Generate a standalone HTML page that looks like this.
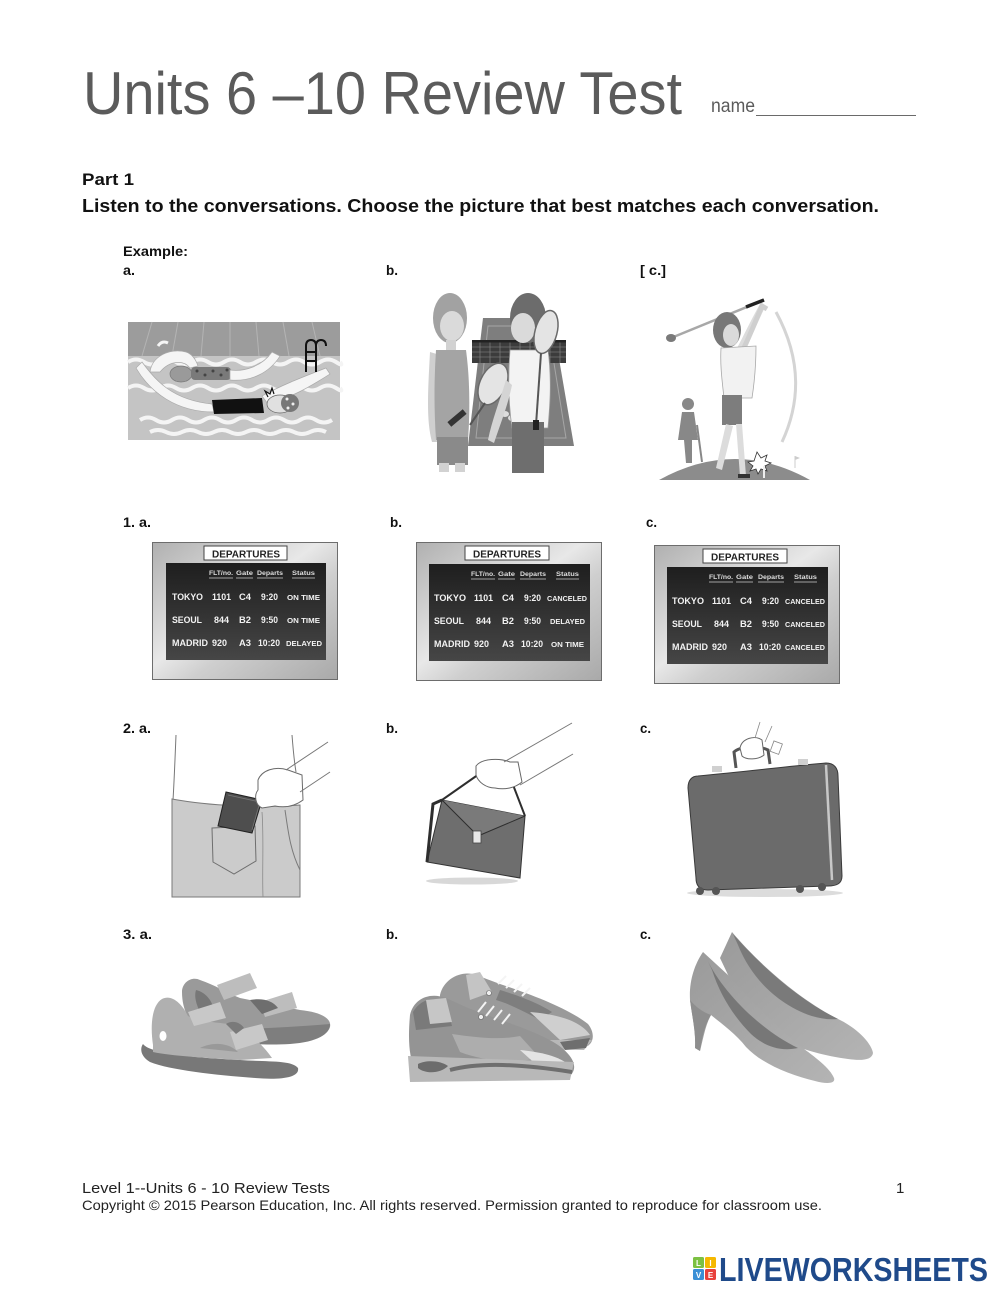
<!DOCTYPE html>
<html><head><meta charset="utf-8"><style>
html,body{margin:0;padding:0;background:#fff;}
svg{display:block;}
text{font-family:"Liberation Sans",Arial,sans-serif;}
</style></head><body>
<svg width="1000" height="1294" viewBox="0 0 1000 1294" xmlns="http://www.w3.org/2000/svg" font-family="Liberation Sans, Arial, sans-serif">
<defs>
<linearGradient id="silver" x1="0" y1="0" x2="1" y2="1">
<stop offset="0" stop-color="#b0b0b0"/><stop offset="0.45" stop-color="#e8e8e8"/><stop offset="0.6" stop-color="#cfcfcf"/><stop offset="1" stop-color="#a9a9a9"/>
</linearGradient>
<linearGradient id="dark" x1="0" y1="0" x2="0" y2="1">
<stop offset="0" stop-color="#1e1e1e"/><stop offset="1" stop-color="#464646"/>
</linearGradient>
<linearGradient id="shoe" x1="0" y1="0" x2="1" y2="1">
<stop offset="0" stop-color="#9a9a9a"/><stop offset="1" stop-color="#b4b4b4"/>
</linearGradient>
</defs>
<rect width="1000" height="1294" fill="#fff"/>

<!-- Header -->
<text x="83" y="114" font-size="60" fill="#5b5b5b" textLength="599" lengthAdjust="spacingAndGlyphs">Units 6 –10 Review Test</text>
<text x="711" y="112" font-size="19" fill="#5b5b5b" textLength="44" lengthAdjust="spacingAndGlyphs">name</text>
<line x1="756" y1="115.5" x2="916" y2="115.5" stroke="#6a6a6a" stroke-width="1"/>

<text x="82" y="185" font-size="17" font-weight="bold" fill="#111" textLength="52" lengthAdjust="spacingAndGlyphs">Part 1</text>
<text x="82" y="212" font-size="18" font-weight="bold" fill="#111" textLength="797" lengthAdjust="spacingAndGlyphs">Listen to the conversations. Choose the picture that best matches each conversation.</text>

<!-- Labels -->
<g font-size="14" font-weight="bold" fill="#111">
<text x="123" y="256" textLength="65" lengthAdjust="spacingAndGlyphs">Example:</text>
<text x="123" y="275" textLength="12" lengthAdjust="spacingAndGlyphs">a.</text>
<text x="386" y="275" textLength="12" lengthAdjust="spacingAndGlyphs">b.</text>
<text x="640" y="275" textLength="26" lengthAdjust="spacingAndGlyphs">[ c.]</text>
<text x="123" y="527" textLength="28" lengthAdjust="spacingAndGlyphs">1. a.</text>
<text x="390" y="527" textLength="12" lengthAdjust="spacingAndGlyphs">b.</text>
<text x="646" y="527" textLength="11" lengthAdjust="spacingAndGlyphs">c.</text>
<text x="123" y="733" textLength="28" lengthAdjust="spacingAndGlyphs">2. a.</text>
<text x="386" y="733" textLength="12" lengthAdjust="spacingAndGlyphs">b.</text>
<text x="640" y="733" textLength="11" lengthAdjust="spacingAndGlyphs">c.</text>
<text x="123" y="939" textLength="29" lengthAdjust="spacingAndGlyphs">3. a.</text>
<text x="386" y="939" textLength="12" lengthAdjust="spacingAndGlyphs">b.</text>
<text x="640" y="939" textLength="11" lengthAdjust="spacingAndGlyphs">c.</text>
</g>

<!-- Example a: swimming pool -->
<g>
<rect x="128" y="322" width="212" height="118" fill="#c4c4c4"/>
<rect x="128" y="322" width="212" height="34" fill="#9c9c9c"/>
<g stroke="#b4b4b4" stroke-width="1">
<line x1="152" y1="322" x2="142" y2="356"/><line x1="178" y1="322" x2="172" y2="356"/>
<line x1="204" y1="322" x2="201" y2="356"/><line x1="230" y1="322" x2="230" y2="356"/>
<line x1="256" y1="322" x2="259" y2="356"/><line x1="283" y1="322" x2="289" y2="356"/>
<line x1="312" y1="322" x2="320" y2="356"/>
</g>
<g fill="none" stroke="#f4f4f4" stroke-width="4">
<path d="M128 362 q8 -5 16 0 t16 0 t16 0 t16 0 t16 0 t16 0 t16 0 t16 0 t16 0 t16 0 t16 0 t16 0 t16 0 t4 0"/>
<path d="M128 388 q8 -5 16 0 t16 0 t16 0 t16 0 t16 0 t16 0 t16 0 t16 0 t16 0 t16 0 t16 0 t16 0 t16 0 t4 0"/>
<path d="M140 420 q8 -5 16 0 t16 0 t16 0 t16 0 t16 0 t16 0 t16 0 t16 0 t16 0 t16 0 t16 0 t16 0"/>
<path d="M150 432 q8 -4 16 0 t16 0 t16 0 t16 0 t16 0 t16 0 t16 0 t16 0 t16 0 t16 0 t16 0"/>
</g>
<path d="M150 372 C152 356 170 348 186 352 C192 354 196 360 198 366 L190 368 C184 360 170 360 160 372 Z" fill="#f5f5f5" stroke="#aaa" stroke-width="0.7"/>
<path d="M158 346 q4 -6 10 -3" stroke="#f5f5f5" stroke-width="3" fill="none"/>
<ellipse cx="181" cy="374" rx="11" ry="8" fill="#9a9a9a" stroke="#777" stroke-width="0.7"/>
<rect x="191" y="367" width="40" height="13" rx="4" fill="#7a7a7a"/>
<g fill="#444"><circle cx="197" cy="371" r="1.5"/><circle cx="205" cy="375" r="1.5"/><circle cx="213" cy="371" r="1.5"/><circle cx="221" cy="375" r="1.5"/><circle cx="227" cy="370" r="1.5"/></g>
<path d="M230 370 C245 372 262 366 272 352 L280 356 C270 372 252 382 230 380 Z" fill="#f5f5f5" stroke="#aaa" stroke-width="0.7"/>
<path d="M142 362 C155 380 172 400 212 404 L214 412 C176 412 150 392 136 368 Z" fill="#f5f5f5" stroke="#aaa" stroke-width="0.7"/>
<path d="M212 400 L262 398 L264 413 L214 414 Z" fill="#111"/>
<path d="M262 396 C280 386 300 378 326 368 L330 374 C308 388 290 398 268 404 Z" fill="#f5f5f5" stroke="#aaa" stroke-width="0.7"/>
<ellipse cx="280" cy="404" rx="13" ry="9" fill="#e0e0e0" stroke="#666" stroke-width="0.7"/>
<ellipse cx="290" cy="403" rx="9" ry="9" fill="#777"/>
<g fill="#eee"><circle cx="287" cy="399" r="1.5"/><circle cx="293" cy="404" r="1.5"/><circle cx="288" cy="408" r="1.5"/></g>
<path d="M268 397 l-3 -6 l5 3 l2 -6 l2 6" stroke="#111" stroke-width="1.2" fill="none"/>
<g fill="none" stroke="#111" stroke-width="2">
<path d="M306 372 V346 q0 -6 5 -6 q5 0 5 6"/>
<path d="M316 372 V346 q0 -6 5 -6 q5 0 5 6"/>
<line x1="306" y1="352" x2="316" y2="352"/><line x1="306" y1="361" x2="316" y2="361"/>
</g>
</g>

<!-- Example b: tennis -->
<g>
<path d="M483 318 L552 318 L574 446 L468 446 Z" fill="#7e7e7e"/>
<path d="M488 326 L548 326 L566 438 L476 438 Z" fill="none" stroke="#a6a6a6" stroke-width="1"/>
<ellipse cx="505" cy="414" rx="4" ry="3" fill="#ddd"/><ellipse cx="512" cy="418" rx="4" ry="3" fill="#ddd"/><ellipse cx="545" cy="420" rx="4" ry="3" fill="#ddd"/>
<rect x="472" y="341" width="94" height="22" fill="#3c3c3c"/>
<g stroke="#8a8a8a" stroke-width="0.6">
<line x1="472" y1="347" x2="566" y2="347"/><line x1="472" y1="352" x2="566" y2="352"/><line x1="472" y1="357" x2="566" y2="357"/>
<line x1="480" y1="341" x2="480" y2="363"/><line x1="490" y1="341" x2="490" y2="363"/><line x1="500" y1="341" x2="500" y2="363"/><line x1="510" y1="341" x2="510" y2="363"/><line x1="520" y1="341" x2="520" y2="363"/><line x1="530" y1="341" x2="530" y2="363"/><line x1="540" y1="341" x2="540" y2="363"/><line x1="550" y1="341" x2="550" y2="363"/><line x1="560" y1="341" x2="560" y2="363"/>
</g>
<rect x="472" y="340" width="94" height="2.5" fill="#222"/>
<ellipse cx="450" cy="318" rx="17" ry="25" fill="#a2a2a2"/>
<ellipse cx="452" cy="326" rx="12" ry="15" fill="#dadada"/>
<rect x="446" y="340" width="10" height="12" fill="#d2d2d2"/>
<path d="M430 352 C428 390 426 420 432 442 L438 442 C436 410 438 380 440 355 Z" fill="#cfcfcf"/>
<path d="M462 352 C470 380 470 410 468 440 L462 440 Z" fill="#cfcfcf"/>
<path d="M436 350 L466 350 C470 380 470 410 468 440 L436 440 C434 410 434 380 436 350 Z" fill="#a4a4a4"/>
<rect x="437" y="437" width="31" height="28" fill="#8a8a8a"/>
<rect x="439" y="463" width="10" height="9" fill="#d2d2d2"/><rect x="455" y="463" width="10" height="9" fill="#d2d2d2"/>
<rect x="447" y="415" width="20" height="6" fill="#333" transform="rotate(-40 457 418)"/>
<ellipse cx="493" cy="384" rx="13" ry="22" fill="#e4e4e4" stroke="#6a6a6a" stroke-width="1.5" transform="rotate(25 493 384)"/>
<line x1="485" y1="403" x2="470" y2="425" stroke="#555" stroke-width="2"/>
<ellipse cx="528" cy="318" rx="18" ry="25" fill="#6c6c6c"/>
<ellipse cx="523" cy="328" rx="12" ry="15" fill="#dadada"/>
<path d="M510 350 L548 350 C552 380 550 405 548 428 L512 428 C508 400 508 375 510 350 Z" fill="#f3f3f3" stroke="#9a9a9a" stroke-width="0.8"/>
<rect x="512" y="422" width="32" height="51" fill="#6e6e6e"/>
<path d="M506 380 C500 400 492 420 488 440 L494 443 C500 425 508 405 512 385 Z" fill="#d4d4d4"/>
<ellipse cx="546" cy="332" rx="11" ry="22" fill="#e4e4e4" stroke="#6a6a6a" stroke-width="1.5" transform="rotate(15 546 332)"/>
<line x1="541" y1="353" x2="536" y2="425" stroke="#555" stroke-width="2"/>
<rect x="533" y="420" width="6" height="10" fill="#222"/>
</g>

<!-- Example c: golf -->
<g>
<path d="M659 480 Q735 438 810 480 Z" fill="#8c8c8c"/>
<path d="M776 312 Q812 378 782 442" stroke="#d4d4d4" stroke-width="3" fill="none"/>
<circle cx="688" cy="404" r="6" fill="#888"/>
<path d="M682 412 L694 412 L698 440 L692 440 L692 463 L686 463 L684 440 L678 440 Z" fill="#888"/>
<line x1="697" y1="425" x2="702" y2="462" stroke="#888" stroke-width="2"/>
<path d="M736 350 C744 335 752 318 760 304 L765 307 C758 322 750 340 744 354 Z" fill="#dcdcdc"/>
<path d="M742 352 C750 335 756 320 762 306 L767 309" stroke="#cfcfcf" stroke-width="5" fill="none"/>
<line x1="671" y1="338" x2="764" y2="300" stroke="#a8a8a8" stroke-width="2.5"/>
<line x1="746" y1="307" x2="764" y2="300" stroke="#222" stroke-width="3.5"/>
<ellipse cx="671" cy="338" rx="5" ry="4" fill="#7a7a7a"/>
<ellipse cx="727" cy="330" rx="14" ry="18" fill="#777"/>
<ellipse cx="731" cy="335" rx="8" ry="11" fill="#dadada"/>
<path d="M721 348 L756 346 C756 370 754 385 752 398 L724 398 C722 380 720 365 721 348 Z" fill="#f2f2f2" stroke="#a8a8a8" stroke-width="0.8"/>
<rect x="722" y="395" width="20" height="30" fill="#7d7d7d"/>
<path d="M726 424 L716 468 L722 470 L733 426 Z" fill="#dcdcdc"/>
<path d="M736 424 L740 476 L746 476 L742 424 Z" fill="#dcdcdc"/>
<rect x="738" y="474" width="12" height="4" fill="#333"/>
<path d="M757 452 l4 6 l6 -3 l-2 6 l6 2 l-6 3 l2 5 l-6 -2 l-3 5 l-2 -5 l-6 2 l3 -5 l-5 -4 l6 -1 Z" fill="#fff" stroke="#333" stroke-width="0.8"/>
<line x1="764" y1="466" x2="764" y2="478" stroke="#eee" stroke-width="2"/>
<line x1="795" y1="456" x2="795" y2="468" stroke="#ccc" stroke-width="1"/><path d="M795 456 l5 2 l-5 2 Z" fill="#ccc"/>
</g>

<!-- Departure boards -->
<g transform="translate(152,542)">
<rect x="0.5" y="0.5" width="185" height="137" fill="url(#silver)" stroke="#6d6d6d"/>
<rect x="14" y="21" width="160" height="97" fill="url(#dark)"/>
<rect x="52" y="4" width="83" height="14" fill="#fff" stroke="#444" stroke-width="1"/>
<text x="60" y="15.5" font-size="10" font-weight="bold" fill="#222" textLength="68" lengthAdjust="spacingAndGlyphs">DEPARTURES</text>
<g font-size="6.5" font-weight="bold" fill="#ddd">
<text x="57" y="33" textLength="24" lengthAdjust="spacingAndGlyphs">FLT/no.</text>
<text x="84" y="33" textLength="17" lengthAdjust="spacingAndGlyphs">Gate</text>
<text x="105" y="33" textLength="26" lengthAdjust="spacingAndGlyphs">Departs</text>
<text x="140" y="33" textLength="23" lengthAdjust="spacingAndGlyphs">Status</text>
</g>
<g stroke="#ccc" stroke-width="0.7"><line x1="57" y1="36" x2="81" y2="36"/><line x1="84" y1="36" x2="101" y2="36"/><line x1="105" y1="36" x2="131" y2="36"/><line x1="140" y1="36" x2="163" y2="36"/></g>
<g font-size="9" font-weight="bold" fill="#f2f2f2">
<text x="20" y="58" textLength="31" lengthAdjust="spacingAndGlyphs">TOKYO</text><text x="60" y="58" textLength="19" lengthAdjust="spacingAndGlyphs">1101</text><text x="87" y="58" textLength="12" lengthAdjust="spacingAndGlyphs">C4</text><text x="109" y="58" textLength="17" lengthAdjust="spacingAndGlyphs">9:20</text>
<text x="20" y="81" textLength="30" lengthAdjust="spacingAndGlyphs">SEOUL</text><text x="62" y="81" textLength="15" lengthAdjust="spacingAndGlyphs">844</text><text x="87" y="81" textLength="12" lengthAdjust="spacingAndGlyphs">B2</text><text x="109" y="81" textLength="17" lengthAdjust="spacingAndGlyphs">9:50</text>
<text x="20" y="104" textLength="36" lengthAdjust="spacingAndGlyphs">MADRID</text><text x="60" y="104" textLength="15" lengthAdjust="spacingAndGlyphs">920</text><text x="87" y="104" textLength="12" lengthAdjust="spacingAndGlyphs">A3</text><text x="106" y="104" textLength="22" lengthAdjust="spacingAndGlyphs">10:20</text>
</g>
<g font-size="7" font-weight="bold" fill="#f2f2f2">
<text x="135" y="58" textLength="33" lengthAdjust="spacingAndGlyphs">ON TIME</text>
<text x="135" y="81" textLength="33" lengthAdjust="spacingAndGlyphs">ON TIME</text>
<text x="134" y="104" textLength="36" lengthAdjust="spacingAndGlyphs">DELAYED</text>
</g>
</g>

<g transform="translate(416,542)">
<rect x="0.5" y="0.5" width="185" height="138" fill="url(#silver)" stroke="#6d6d6d"/>
<rect x="13" y="22" width="161" height="97" fill="url(#dark)"/>
<rect x="49" y="4" width="84" height="14" fill="#fff" stroke="#444" stroke-width="1"/>
<text x="57" y="15.5" font-size="10" font-weight="bold" fill="#222" textLength="68" lengthAdjust="spacingAndGlyphs">DEPARTURES</text>
<g font-size="6.5" font-weight="bold" fill="#ddd">
<text x="55" y="34" textLength="24" lengthAdjust="spacingAndGlyphs">FLT/no.</text>
<text x="82" y="34" textLength="17" lengthAdjust="spacingAndGlyphs">Gate</text>
<text x="104" y="34" textLength="26" lengthAdjust="spacingAndGlyphs">Departs</text>
<text x="140" y="34" textLength="23" lengthAdjust="spacingAndGlyphs">Status</text>
</g>
<g stroke="#ccc" stroke-width="0.7"><line x1="55" y1="37" x2="79" y2="37"/><line x1="82" y1="37" x2="99" y2="37"/><line x1="104" y1="37" x2="130" y2="37"/><line x1="140" y1="37" x2="163" y2="37"/></g>
<g font-size="9" font-weight="bold" fill="#f2f2f2">
<text x="18" y="59" textLength="32" lengthAdjust="spacingAndGlyphs">TOKYO</text><text x="58" y="59" textLength="19" lengthAdjust="spacingAndGlyphs">1101</text><text x="86" y="59" textLength="12" lengthAdjust="spacingAndGlyphs">C4</text><text x="108" y="59" textLength="17" lengthAdjust="spacingAndGlyphs">9:20</text>
<text x="18" y="82" textLength="30" lengthAdjust="spacingAndGlyphs">SEOUL</text><text x="60" y="82" textLength="15" lengthAdjust="spacingAndGlyphs">844</text><text x="86" y="82" textLength="12" lengthAdjust="spacingAndGlyphs">B2</text><text x="108" y="82" textLength="17" lengthAdjust="spacingAndGlyphs">9:50</text>
<text x="18" y="105" textLength="36" lengthAdjust="spacingAndGlyphs">MADRID</text><text x="58" y="105" textLength="15" lengthAdjust="spacingAndGlyphs">920</text><text x="86" y="105" textLength="12" lengthAdjust="spacingAndGlyphs">A3</text><text x="105" y="105" textLength="22" lengthAdjust="spacingAndGlyphs">10:20</text>
</g>
<g font-size="7" font-weight="bold" fill="#f2f2f2">
<text x="131" y="59" textLength="40" lengthAdjust="spacingAndGlyphs">CANCELED</text>
<text x="134" y="82" textLength="35" lengthAdjust="spacingAndGlyphs">DELAYED</text>
<text x="135" y="105" textLength="33" lengthAdjust="spacingAndGlyphs">ON TIME</text>
</g>
</g>

<g transform="translate(654,545)">
<rect x="0.5" y="0.5" width="185" height="138" fill="url(#silver)" stroke="#6d6d6d"/>
<rect x="13" y="22" width="161" height="97" fill="url(#dark)"/>
<rect x="49" y="4" width="84" height="14" fill="#fff" stroke="#444" stroke-width="1"/>
<text x="57" y="15.5" font-size="10" font-weight="bold" fill="#222" textLength="68" lengthAdjust="spacingAndGlyphs">DEPARTURES</text>
<g font-size="6.5" font-weight="bold" fill="#ddd">
<text x="55" y="34" textLength="24" lengthAdjust="spacingAndGlyphs">FLT/no.</text>
<text x="82" y="34" textLength="17" lengthAdjust="spacingAndGlyphs">Gate</text>
<text x="104" y="34" textLength="26" lengthAdjust="spacingAndGlyphs">Departs</text>
<text x="140" y="34" textLength="23" lengthAdjust="spacingAndGlyphs">Status</text>
</g>
<g stroke="#ccc" stroke-width="0.7"><line x1="55" y1="37" x2="79" y2="37"/><line x1="82" y1="37" x2="99" y2="37"/><line x1="104" y1="37" x2="130" y2="37"/><line x1="140" y1="37" x2="163" y2="37"/></g>
<g font-size="9" font-weight="bold" fill="#f2f2f2">
<text x="18" y="59" textLength="32" lengthAdjust="spacingAndGlyphs">TOKYO</text><text x="58" y="59" textLength="19" lengthAdjust="spacingAndGlyphs">1101</text><text x="86" y="59" textLength="12" lengthAdjust="spacingAndGlyphs">C4</text><text x="108" y="59" textLength="17" lengthAdjust="spacingAndGlyphs">9:20</text>
<text x="18" y="82" textLength="30" lengthAdjust="spacingAndGlyphs">SEOUL</text><text x="60" y="82" textLength="15" lengthAdjust="spacingAndGlyphs">844</text><text x="86" y="82" textLength="12" lengthAdjust="spacingAndGlyphs">B2</text><text x="108" y="82" textLength="17" lengthAdjust="spacingAndGlyphs">9:50</text>
<text x="18" y="105" textLength="36" lengthAdjust="spacingAndGlyphs">MADRID</text><text x="58" y="105" textLength="15" lengthAdjust="spacingAndGlyphs">920</text><text x="86" y="105" textLength="12" lengthAdjust="spacingAndGlyphs">A3</text><text x="105" y="105" textLength="22" lengthAdjust="spacingAndGlyphs">10:20</text>
</g>
<g font-size="7" font-weight="bold" fill="#f2f2f2">
<text x="131" y="59" textLength="40" lengthAdjust="spacingAndGlyphs">CANCELED</text>
<text x="131" y="82" textLength="40" lengthAdjust="spacingAndGlyphs">CANCELED</text>
<text x="131" y="105" textLength="40" lengthAdjust="spacingAndGlyphs">CANCELED</text>
</g>
</g>

<!-- 2a: wallet in pocket -->
<g>
<path d="M176 735 C175 760 174 785 173 800 C210 806 260 808 300 806 L297 775 C295 760 293 745 292 735 Z" fill="#fff"/>
<path d="M176 735 C175 760 174 785 173 800" stroke="#777" stroke-width="1" fill="none"/>
<path d="M292 735 C293 748 294 760 296 772" stroke="#777" stroke-width="1" fill="none"/>
<path d="M172 799 C210 806 260 808 300 805 L300 897 L172 897 Z" fill="#cbcbcb" stroke="#7a7a7a" stroke-width="1"/>
<path d="M212 828 L255 826 L256 861 L234 874 L213 862 Z" fill="none" stroke="#6e6e6e" stroke-width="1"/>
<path d="M285 810 C288 830 290 850 300 870" fill="none" stroke="#7a7a7a" stroke-width="1"/>
<path d="M262 812 C264 840 262 870 263 897" fill="none" stroke="#8a8a8a" stroke-width="0.8"/>
<path d="M226 792 L262 800 L252 833 L218 826 Z" fill="#4e4e4e" stroke="#222" stroke-width="1"/>
<path d="M228 795 L260 802 L252 830" fill="none" stroke="#777" stroke-width="0.8"/>
<path d="M258 780 C262 770 275 766 288 770 L302 775 L303 800 C295 806 285 808 275 806 L262 808 C255 805 254 795 258 790 Z" fill="#fff" stroke="#6a6a6a" stroke-width="1"/>
<path d="M286 770 L328 742 M300 792 L330 772" stroke="#777" stroke-width="1" fill="none"/>
</g>

<!-- 2b: briefcase -->
<g>
<ellipse cx="472" cy="881" rx="46" ry="3.5" fill="#d8d8d8"/>
<path d="M442 800 L525 816 L520 878 L427 862 Z" fill="#6e6e6e" stroke="#333" stroke-width="1"/>
<path d="M442 800 L433 804 L427 862" fill="none" stroke="#2e2e2e" stroke-width="3"/>
<path d="M442 800 L478 836 L525 816" fill="#7a7a7a" stroke="#2e2e2e" stroke-width="1"/>
<rect x="473" y="831" width="8" height="12" fill="#e8e8e8" stroke="#444" stroke-width="0.8"/>
<path d="M442 800 L482 772 M525 816 L510 777" stroke="#2e2e2e" stroke-width="2" fill="none"/>
<path d="M476 766 C482 758 500 758 510 762 L518 762 L522 782 C515 788 505 790 495 788 C486 788 478 782 476 775 Z" fill="#fff" stroke="#666" stroke-width="1"/>
<path d="M504 762 L572 723 M520 785 L573 754" stroke="#777" stroke-width="1" fill="none"/>
</g>

<!-- 2c: suitcase -->
<g>
<ellipse cx="765" cy="893" rx="78" ry="4" fill="#dcdcdc"/>
<path d="M736 768 L734 752 C740 746 760 746 768 750 L770 764" fill="none" stroke="#555" stroke-width="3"/>
<path d="M740 748 C742 738 755 735 762 740 L764 755 C758 760 746 760 742 756 Z" fill="#fff" stroke="#666" stroke-width="1"/>
<path d="M755 738 L760 722 M765 742 L772 726" stroke="#888" stroke-width="0.8"/>
<rect x="772" y="742" width="9" height="11" fill="#fff" stroke="#888" stroke-width="0.8" transform="rotate(20 776 747)"/>
<path d="M698 776 C760 770 800 765 826 763 C834 763 838 768 838 776 L842 876 C842 884 836 886 828 886 L708 890 C700 890 696 886 696 878 L688 788 C688 780 692 776 698 776 Z" fill="#6b6b6b" stroke="#3a3a3a" stroke-width="1"/>
<path d="M826 765 L832 880" stroke="#c8c8c8" stroke-width="2.5" fill="none"/>
<rect x="712" y="766" width="10" height="6" fill="#d0d0d0"/><rect x="798" y="759" width="10" height="6" fill="#d0d0d0"/>
<g fill="#555"><circle cx="700" cy="891" r="4"/><circle cx="716" cy="891" r="4"/><circle cx="800" cy="889" r="4"/><circle cx="822" cy="887" r="4"/></g>
</g>

<!-- 3a: sandals -->
<g>
<!-- back sandal -->
<path d="M182 992 C182 982 192 976 200 980 C215 985 225 992 240 998 L300 1010 C320 1012 332 1018 330 1027 C326 1040 300 1044 270 1044 C240 1044 215 1040 200 1030 C188 1022 182 1008 182 992 Z" fill="#9a9a9a"/>
<path d="M210 1028 C240 1030 280 1028 330 1024 C330 1034 318 1042 290 1044 C255 1046 225 1042 210 1036 Z" fill="#7e7e7e"/>
<path d="M196 990 C205 992 212 1000 214 1010 L200 1012 C196 1004 194 996 196 990 Z" fill="#777"/>
<path d="M217 985 L250 973 L257 988 L224 1000 Z" fill="#bdbdbd"/>
<path d="M260 1002 L292 992 L297 1008 L265 1017 Z" fill="#bdbdbd"/>
<path d="M250 1000 C262 998 272 1000 278 1008 L262 1014 Z" fill="#6e6e6e"/>
<!-- front sandal -->
<path d="M143 1044 C150 1054 200 1058 240 1060 C268 1062 292 1060 298 1068 C300 1078 280 1080 255 1078 C215 1075 170 1070 150 1062 C140 1056 140 1048 143 1044 Z" fill="#787878"/>
<path d="M153 1045 C150 1025 152 1005 162 999 C172 994 182 1004 188 1016 C200 1022 215 1022 228 1024 L245 1030 C255 1038 265 1048 272 1058 L240 1060 C210 1058 170 1056 153 1052 Z" fill="#b0b0b0"/>
<ellipse cx="163" cy="1036" rx="3.5" ry="5" fill="#fff"/>
<path d="M188 1012 L220 1002 L226 1018 L194 1026 Z" fill="#c8c8c8"/>
<path d="M230 1032 L262 1024 L268 1040 L236 1050 Z" fill="#c8c8c8"/>
<path d="M200 1048 C212 1042 228 1042 238 1052 Z" fill="#999"/>
<path d="M226 1024 C232 1020 240 1022 244 1028 L236 1034 Z" fill="#7a7a7a"/>
</g>

<!-- 3b: sneakers -->
<g>
<!-- back shoe -->
<path d="M440 995 C444 978 462 970 476 975 L500 984 C530 994 568 1008 588 1024 C596 1034 594 1046 582 1048 L472 1046 C452 1042 440 1022 440 995 Z" fill="#9a9a9a"/>
<path d="M466 975 L480 972 L492 992 L470 1000 Z" fill="#c4c4c4"/>
<path d="M500 990 C520 996 540 1004 552 1012 L540 1020 C525 1012 510 1004 496 1000 Z" fill="#7e7e7e"/>
<path d="M530 1012 C555 1014 580 1020 590 1035 L560 1040 Z" fill="#cfcfcf"/>
<path d="M478 1040 L592 1040 L584 1050 L478 1048 Z" fill="#b8b8b8"/>
<path d="M560 1042 L590 1038 L586 1048 L565 1050 Z" fill="#6e6e6e"/>
<g stroke="#f4f4f4" stroke-width="2"><line x1="498" y1="984" x2="506" y2="976"/><line x1="506" y1="988" x2="514" y2="980"/><line x1="514" y1="992" x2="522" y2="984"/><line x1="522" y1="996" x2="530" y2="988"/></g>
<circle cx="489" cy="993" r="2.5" fill="#eee" stroke="#666" stroke-width="0.6"/>
<!-- front shoe -->
<path d="M410 1015 C414 998 430 992 446 998 L468 1008 C505 1022 545 1034 562 1048 C574 1058 578 1068 570 1076 L432 1080 C414 1078 406 1060 410 1015 Z" fill="#949494"/>
<path d="M413 1012 C420 1000 432 996 446 1002 L452 1026 L416 1030 Z" fill="#7a7a7a"/>
<path d="M426 1000 L446 998 L452 1022 L430 1024 Z" fill="#c6c6c6"/>
<path d="M452 1034 C480 1038 500 1040 520 1036 L540 1058 C510 1064 480 1060 460 1052 Z" fill="#adadad"/>
<path d="M520 1050 C540 1052 560 1056 570 1066 L540 1068 Z" fill="#e4e4e4"/>
<path d="M408 1056 L574 1062 L570 1080 L410 1082 Z" fill="#b8b8b8"/>
<path d="M418 1064 C425 1060 440 1060 448 1066 C440 1074 425 1074 418 1068 Z" fill="#6c6c6c"/>
<path d="M450 1070 C480 1062 520 1064 572 1072" stroke="#6e6e6e" stroke-width="4" fill="none"/>
<g stroke="#f4f4f4" stroke-width="2"><line x1="478" y1="1012" x2="486" y2="1002"/><line x1="486" y1="1016" x2="494" y2="1006"/><line x1="494" y1="1020" x2="502" y2="1010"/><line x1="502" y1="1024" x2="510" y2="1014"/></g>
<circle cx="481" cy="1017" r="2.5" fill="#eee" stroke="#666" stroke-width="0.6"/>
</g>

<!-- 3c: high heels -->
<g>
<!-- back pump -->
<path d="M732 932 C760 965 800 1000 840 1020 C860 1030 872 1045 873 1053 C872 1060 862 1061 848 1059 C825 1056 805 1050 790 1044 L740 1000 L720 958 Z" fill="url(#shoe)"/>
<path d="M733 934 C765 970 800 1000 838 1019 C820 1021 800 1013 785 1003 C765 990 748 970 738 945 Z" fill="#7a7a7a"/>
<!-- front pump -->
<path d="M703 952 C694 965 689 982 690 1000 C692 1016 696 1032 695 1048 L700 1051 C703 1040 705 1026 711 1015 C722 1024 736 1034 746 1047 C762 1064 790 1075 815 1081 C826 1084 836 1084 834 1078 C830 1068 815 1057 800 1046 C780 1030 750 1000 728 975 Z" fill="url(#shoe)"/>
<path d="M705 955 C720 990 760 1030 798 1048 C780 1052 764 1046 751 1034 C734 1017 720 995 712 970 Z" fill="#777"/>
<path d="M690 1000 C692 1016 696 1032 695 1048 L700 1051 C702 1038 705 1024 711 1015 C702 1012 695 1006 690 1000 Z" fill="#8e8e8e"/>
</g>

<!-- Footer -->
<text x="82" y="1193" font-size="15" fill="#222" textLength="248" lengthAdjust="spacingAndGlyphs">Level 1--Units 6 - 10 Review Tests</text>
<text x="896" y="1193" font-size="15" fill="#222">1</text>
<text x="82" y="1210" font-size="14" fill="#222" textLength="740" lengthAdjust="spacingAndGlyphs">Copyright © 2015 Pearson Education, Inc. All rights reserved. Permission granted to reproduce for classroom use.</text>

<!-- Logo -->
<g>
<rect x="693" y="1257" width="11" height="11" rx="1.5" fill="#7cc142"/>
<rect x="705" y="1257" width="11" height="11" rx="1.5" fill="#f5b800"/>
<rect x="693" y="1269" width="11" height="11" rx="1.5" fill="#3a8fd6"/>
<rect x="705" y="1269" width="11" height="11" rx="1.5" fill="#e8413c"/>
<g font-size="8" font-weight="bold" fill="#fff" text-anchor="middle">
<text x="698.5" y="1266">L</text><text x="710.5" y="1266">I</text><text x="698.5" y="1278">V</text><text x="710.5" y="1278">E</text>
</g>
<text x="719" y="1281" font-size="33" font-weight="bold" fill="#1f4a8a" textLength="269" lengthAdjust="spacingAndGlyphs">LIVEWORKSHEETS</text>
</g>
</svg>
</body></html>
